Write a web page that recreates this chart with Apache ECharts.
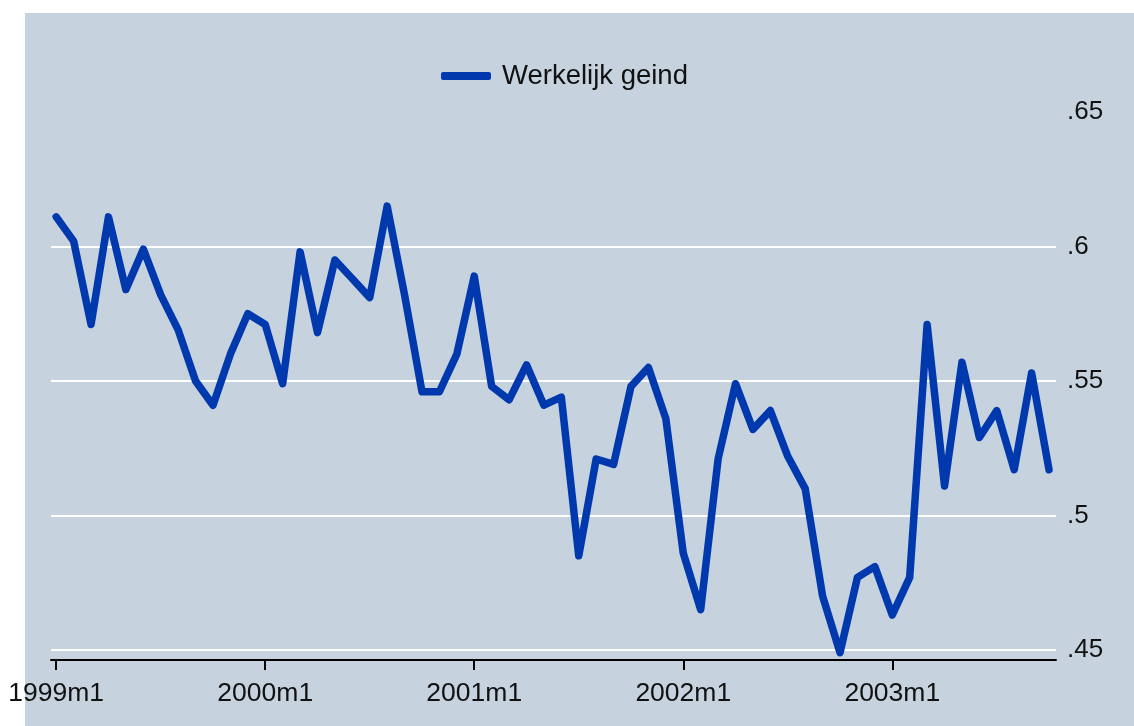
<!DOCTYPE html>
<html>
<head>
<meta charset="utf-8">
<script src="https://cdn.jsdelivr.net/npm/echarts@6/dist/echarts.min.js"></script>
<style>
  html, body { margin: 0; padding: 0; background: #ffffff; }
  #main { width: 1134px; height: 726px; }
</style>
</head>
<body>
<div id="main"></div>
<script>
// maandelijkse reeks, 1999m1 t/m 2003m10
var seriesName = 'Werkelijk geind';
var values = [
  0.611, 0.602, 0.571, 0.611, 0.584, 0.599, 0.582, 0.569, 0.550, 0.541, 0.560, 0.575,
  0.571, 0.549, 0.598, 0.568, 0.595, 0.588, 0.581, 0.615, 0.582, 0.546, 0.546, 0.560,
  0.589, 0.548, 0.543, 0.556, 0.541, 0.544, 0.485, 0.521, 0.519, 0.548, 0.555, 0.536,
  0.486, 0.465, 0.521, 0.549, 0.532, 0.539, 0.522, 0.510, 0.470, 0.449, 0.477, 0.481,
  0.463, 0.477, 0.571, 0.511, 0.557, 0.529, 0.539, 0.517, 0.553, 0.517
];
var tickPositions = [0, 12, 24, 36, 48];
var tickLabels = ['1999m1', '2000m1', '2001m1', '2002m1', '2003m1'];
var yTicks = [0.45, 0.5, 0.55, 0.6, 0.65];
var yTickLabels = ['.45', '.5', '.55', '.6', '.65'];

var myChart = echarts.init(document.getElementById('main'));

var data = [];
for (var i = 0; i < values.length; i++) {
  data.push([i, values[i]]);
}

var font = 'Liberation Sans, Arial, sans-serif';

option = {
  backgroundColor: '#ffffff',
  animation: false,
  graphic: [{
    type: 'rect',
    z: -10,
    silent: true,
    shape: { x: 25, y: 13, width: 1109, height: 713 },
    style: { fill: '#c6d2de' }
  }],
  legend: {
    top: 57,
    left: 436,
    itemWidth: 50,
    itemHeight: 8,
    icon: 'roundRect',
    textStyle: { fontFamily: font, fontSize: 27.5, color: '#111', padding: [0, 0, 0, 6] },
    data: [seriesName]
  },
  grid: {
    left: 51,
    right: 78,
    top: 112,
    bottom: 76
  },
  xAxis: {
    type: 'value',
    min: -0.3,
    max: 57.4,
    offset: 10,
    splitLine: { show: false },
    axisLine: { show: true, onZero: false, lineStyle: { color: '#000', width: 2 } },
    axisTick: { show: true, customValues: tickPositions, length: 10, lineStyle: { color: '#000', width: 2 } },
    axisLabel: {
      customValues: tickPositions,
      margin: 20,
      fontFamily: font,
      fontSize: 26.5,
      color: '#111',
      formatter: function (v) {
        return tickLabels[tickPositions.indexOf(v)];
      }
    }
  },
  yAxis: {
    type: 'value',
    position: 'right',
    min: 0.45,
    max: 0.65,
    interval: 0.05,
    axisLine: { show: false },
    axisTick: { show: false },
    splitLine: { show: true, showMaxLine: false, lineStyle: { color: '#ffffff', width: 2 } },
    axisLabel: {
      margin: 11,
      fontFamily: font,
      fontSize: 26,
      color: '#111',
      formatter: function (v) {
        for (var k = 0; k < yTicks.length; k++) {
          if (Math.abs(yTicks[k] - v) < 1e-6) return yTickLabels[k];
        }
        return '';
      }
    }
  },
  series: [{
    name: seriesName,
    type: 'line',
    data: data,
    clip: false,
    showSymbol: false,
    color: '#0039ad',
    lineStyle: { color: '#0039ad', width: 7.5, cap: 'round', join: 'round' }
  }]
};

myChart.setOption(option);
</script>
</body>
</html>
